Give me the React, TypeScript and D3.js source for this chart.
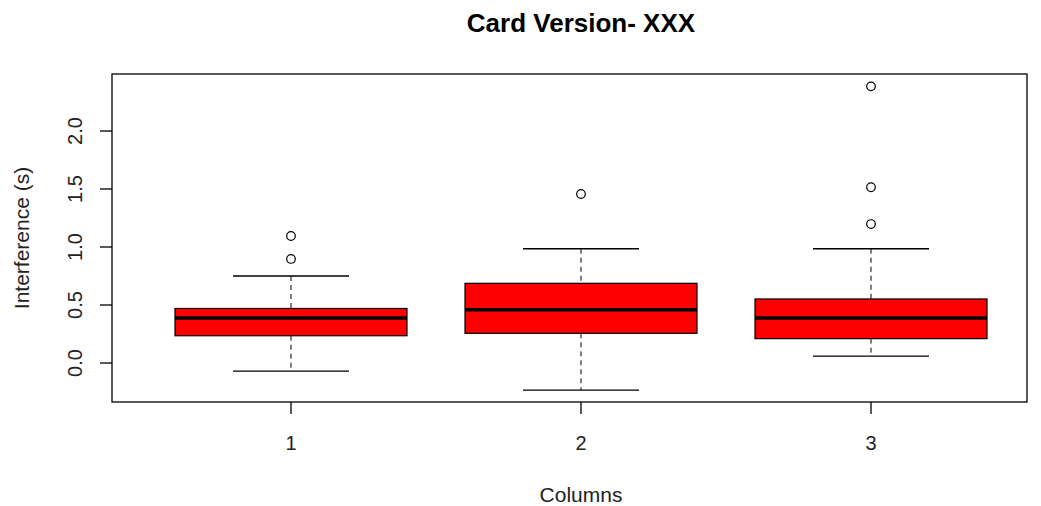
import React from 'react';
import * as d3 from 'd3';

const groups = ['1', '2', '3'];
const lowerWhisker = [-0.07, -0.233, 0.06];
const q1 = [0.235, 0.256, 0.21];
const median = [0.388, 0.46, 0.388];
const q3 = [0.47, 0.687, 0.552];
const upperWhisker = [0.75, 0.985, 0.985];
const outliers = [[0.897, 1.095], [1.457], [1.198, 1.515, 2.385]];
const yTicks = [0, 0.5, 1, 1.5, 2];

const W = 1041;
const H = 506;
const left = 112;
const right = 1027;
const top = 74;
const bottom = 402;

const App: React.FC = () => {
  // y: 0 sits at 363px, 116px per unit
  const y = d3.scaleLinear().domain([-0.3362, 2.4914]).range([bottom, top]);
  const x = d3.scaleLinear().domain([0.3828, 3.5379]).range([left, right]);
  const boxW = x(0.8) - x(0);
  const capW = boxW / 2;
  const font = 'Liberation Sans, Arial, sans-serif';
  // R centres the titles on the full x range (0.38..3.62), i.e. on group 2
  const midX = x(2);

  return (
    <svg width={W} height={H} style={{ position: 'absolute', left: 0, top: 0, background: '#fff' }} fontFamily={font}>
      <text x={midX} y={32} textAnchor="middle" fontSize={26} fontWeight="bold">
        Card Version- XXX
      </text>

      {groups.map((g, i) => {
        const cx = x(i + 1);
        return (
          <g key={g}>
            <line x1={cx} x2={cx} y1={y(upperWhisker[i])} y2={y(q3[i])} stroke="#000" strokeDasharray="5,4" />
            <line x1={cx} x2={cx} y1={y(q1[i])} y2={y(lowerWhisker[i])} stroke="#000" strokeDasharray="5,4" />
            <line x1={cx - capW / 2} x2={cx + capW / 2} y1={y(upperWhisker[i])} y2={y(upperWhisker[i])} stroke="#000" strokeWidth={1.3} />
            <line x1={cx - capW / 2} x2={cx + capW / 2} y1={y(lowerWhisker[i])} y2={y(lowerWhisker[i])} stroke="#000" strokeWidth={1.3} />
            <rect x={cx - boxW / 2} y={y(q3[i])} width={boxW} height={y(q1[i]) - y(q3[i])} fill="#ff0000" stroke="#000" strokeWidth={1.2} />
            <line x1={cx - boxW / 2} x2={cx + boxW / 2} y1={y(median[i])} y2={y(median[i])} stroke="#000" strokeWidth={3.5} />
            {outliers[i].map((v, j) => (
              <circle key={j} cx={cx} cy={y(v)} r={4.3} fill="none" stroke="#000" strokeWidth={1.2} />
            ))}
          </g>
        );
      })}

      <rect x={left} y={top} width={right - left} height={bottom - top} fill="none" stroke="#000" strokeWidth={1.3} />

      {yTicks.map(t => (
        <g key={t}>
          <line x1={left - 12} x2={left} y1={y(t)} y2={y(t)} stroke="#000" strokeWidth={1.3} />
          <text transform={`translate(82,${y(t)}) rotate(-90)`} textAnchor="middle" fontSize={20} fill="#222">
            {t.toFixed(1)}
          </text>
        </g>
      ))}

      {groups.map((g, i) => (
        <g key={g}>
          <line x1={x(i + 1)} x2={x(i + 1)} y1={bottom} y2={bottom + 12} stroke="#000" strokeWidth={1.3} />
          <text x={x(i + 1)} y={450} textAnchor="middle" fontSize={20} fill="#222">
            {g}
          </text>
        </g>
      ))}

      <text x={midX} y={502} textAnchor="middle" fontSize={21} fill="#222">
        Columns
      </text>
      <text transform={`translate(29,${(top + bottom) / 2}) rotate(-90)`} textAnchor="middle" fontSize={21} fill="#222">
        Interference (s)
      </text>
    </svg>
  );
};

export default App;
